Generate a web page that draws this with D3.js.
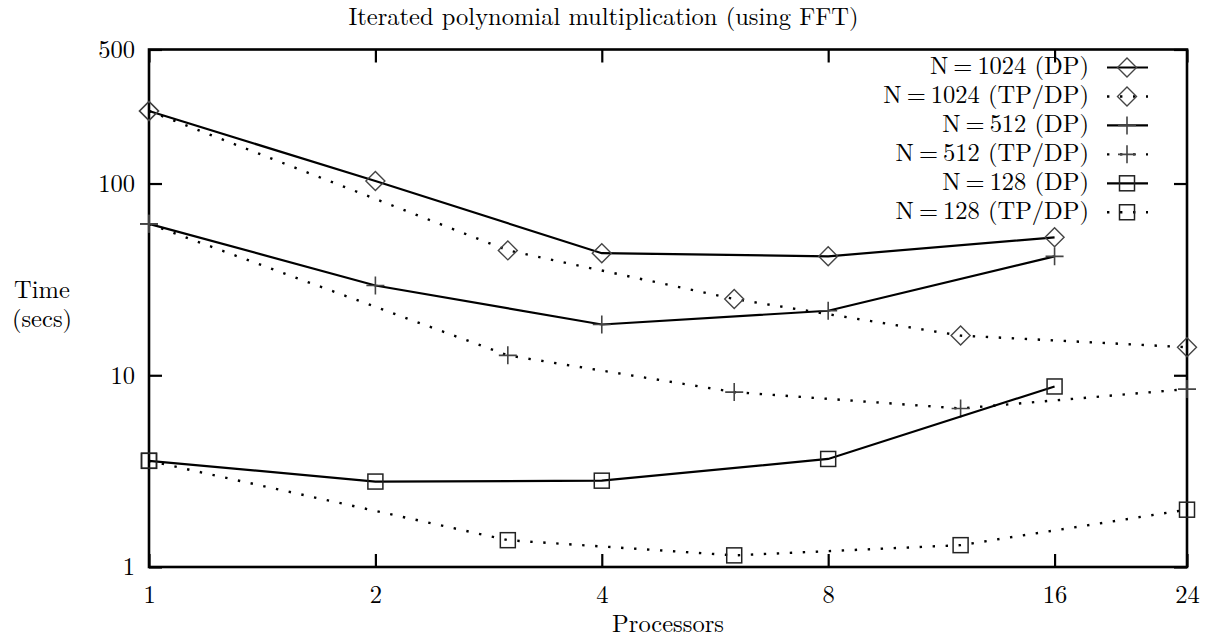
<!DOCTYPE html>
<html lang="en">
<head>
  <meta charset="UTF-8">
  <title>Iterated polynomial multiplication (using FFT)</title>
  <script src="https://d3js.org/d3.v7.min.js"></script>
</head>
<body style="margin:0; background:#fff">
  <svg id="chart" width="1207" height="637"></svg>
  <script>
    // processor counts
    const procsDP = [1, 2, 4, 8, 16];
    const procsTP = [1, 3, 6, 12, 24];

    // times in seconds
    const dp1024 = [239, 103, 43.3, 41.7, 52.4];
    const tp1024 = [239, 44.8, 25.0, 16.1, 14.0];
    const dp512 = [61.6, 29.4, 18.4, 21.7, 41.7];
    const tp512 = [61.6, 12.7, 8.17, 6.71, 8.47];
    const dp128 = [3.58, 2.79, 2.82, 3.66, 8.74];
    const tp128 = [3.58, 1.38, 1.15, 1.30, 1.99];

    const xTicks = [1, 2, 4, 8, 16, 24];
    const yTicks = [1, 10, 100, 500];

    const series = [
      {n: "1024", kind: "DP",    x: procsDP, y: dp1024, mark: "diamond", dotted: false},
      {n: "1024", kind: "TP/DP", x: procsTP, y: tp1024, mark: "diamond", dotted: true},
      {n: "512",  kind: "DP",    x: procsDP, y: dp512,  mark: "plus",    dotted: false},
      {n: "512",  kind: "TP/DP", x: procsTP, y: tp512,  mark: "plus",    dotted: true},
      {n: "128",  kind: "DP",    x: procsDP, y: dp128,  mark: "square",  dotted: false},
      {n: "128",  kind: "TP/DP", x: procsTP, y: tp128,  mark: "square",  dotted: true}
    ];

    const margin = {top: 49.5, right: 20, bottom: 70, left: 149};
    const width = 1207, height = 637;
    const font = "'Latin Modern Roman', 'Liberation Serif', serif";
    const fs = "24.5px";

    const x = d3.scaleLog()
      .domain([1, 24])
      .range([margin.left, width - margin.right]);

    const y = d3.scaleLog()
      .domain([1, 500])
      .range([height - margin.bottom, margin.top]);

    const svg = d3.select("#chart");

    function label(sel) {
      return sel.style("font-family", font).style("font-size", fs).style("fill", "#000");
    }

    // title and axis titles
    svg.append("text")
      .attr("x", width / 2).attr("y", 25)
      .attr("text-anchor", "middle")
      .call(label)
      .text("Iterated polynomial multiplication (using FFT)");

    svg.append("text")
      .attr("x", (x.range()[0] + x.range()[1]) / 2).attr("y", 632)
      .attr("text-anchor", "middle")
      .call(label)
      .text("Processors");

    const ylab = svg.append("text")
      .attr("text-anchor", "middle")
      .call(label);
    ylab.append("tspan").attr("x", 42).attr("y", 298).text("Time");
    ylab.append("tspan").attr("x", 42).attr("y", 327).text("(secs)");

    // axes (ticks point inwards, mirrored on top and right)
    const fmt = d3.format("d");
    const axes = [
      {pos: `translate(0,${y.range()[0]})`, ax: d3.axisBottom(x).tickValues(xTicks).tickFormat(fmt).tickPadding(19)},
      {pos: `translate(0,${y.range()[1]})`, ax: d3.axisTop(x).tickValues(xTicks).tickFormat("")},
      {pos: `translate(${x.range()[0]},0)`, ax: d3.axisLeft(y).tickValues(yTicks).tickFormat(fmt).tickPadding(14)},
      {pos: `translate(${x.range()[1]},0)`, ax: d3.axisRight(y).tickValues(yTicks).tickFormat("")}
    ];
    axes.forEach(a => {
      const g = svg.append("g")
        .attr("transform", a.pos)
        .call(a.ax.tickSizeInner(-13).tickSizeOuter(0));
      g.select(".domain").remove();
      g.selectAll(".tick line").attr("stroke", "#000").attr("stroke-width", 2.2);
      g.selectAll(".tick text").call(label);
    });

    // frame
    svg.append("rect")
      .attr("x", x.range()[0]).attr("y", y.range()[1])
      .attr("width", x.range()[1] - x.range()[0])
      .attr("height", y.range()[0] - y.range()[1])
      .attr("fill", "none").attr("stroke", "#000").attr("stroke-width", 2.6);

    // marker shapes
    function drawMark(g, type, cx, cy) {
      if (type === "diamond") {
        g.append("path")
          .attr("d", `M${cx},${cy - 9.5}L${cx + 9.5},${cy}L${cx},${cy + 9.5}L${cx - 9.5},${cy}Z`)
          .attr("fill", "none").attr("stroke", "#444").attr("stroke-width", 1.4);
      } else if (type === "plus") {
        g.append("path")
          .attr("d", `M${cx - 9},${cy}H${cx + 9}M${cx},${cy - 9}V${cy + 9}`)
          .attr("fill", "none").attr("stroke", "#444").attr("stroke-width", 1.6);
      } else {
        g.append("rect")
          .attr("x", cx - 7.5).attr("y", cy - 7.5)
          .attr("width", 15).attr("height", 15)
          .attr("fill", "none").attr("stroke", "#222").attr("stroke-width", 1.5);
      }
    }

    const line = d3.line().x(d => x(d[0])).y(d => y(d[1]));

    const plot = svg.append("g");
    series.forEach(s => {
      const pts = s.x.map((v, i) => [v, s.y[i]]);
      plot.append("path")
        .datum(pts)
        .attr("d", line)
        .attr("fill", "none")
        .attr("stroke", "#000")
        .attr("stroke-width", s.dotted ? 2.4 : 2.2)
        .attr("stroke-dasharray", s.dotted ? "2.4 10.6" : null);
      const mg = plot.append("g");
      pts.forEach(p => drawMark(mg, s.mark, x(p[0]), y(p[1])));
    });

    // legend ("=" gets TeX-like math spacing)
    const legend = svg.append("g");
    series.forEach((s, i) => {
      const ly = 67.5 + i * 28.95;
      const t = legend.append("text")
        .attr("x", 1089).attr("y", ly + 6.5)
        .attr("text-anchor", "end")
        .call(label);
      t.append("tspan").text("N");
      t.append("tspan").attr("dx", 5).text("=");
      t.append("tspan").attr("dx", 5).text(`${s.n} (${s.kind})`);
      legend.append("line")
        .attr("x1", 1107).attr("x2", 1148)
        .attr("y1", ly).attr("y2", ly)
        .attr("stroke", "#000")
        .attr("stroke-width", s.dotted ? 2.4 : 2.2)
        .attr("stroke-dasharray", s.dotted ? "2.4 10.6" : null);
      drawMark(legend, s.mark, 1127, ly);
    });
  </script>
</body>
</html>
